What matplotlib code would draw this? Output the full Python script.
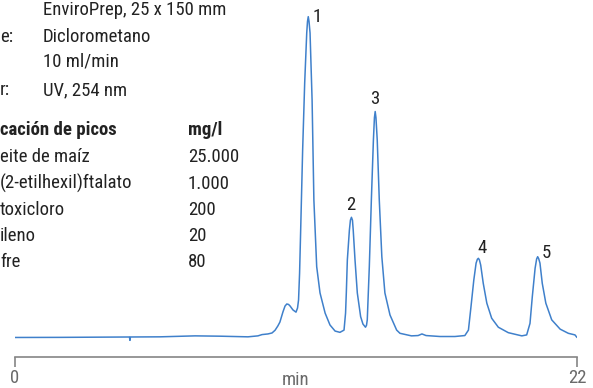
import numpy as np
import matplotlib
matplotlib.use("Agg")
import matplotlib.pyplot as plt

plt.rcParams['font.family'] = ['Roboto Condensed', 'DejaVu Sans']
fs = 13.5

# chromatogram: time (min) and detector signal (arbitrary units)
time_min = [0.0, 1.76, 3.33, 4.48, 4.50, 4.52, 5.68, 7.05, 8.03, 9.12, 9.51, 9.67, 9.90,
            10.06, 10.18, 10.29, 10.37, 10.49, 10.57, 10.64, 10.71, 10.77, 10.88, 11.00, 11.06, 11.10,
            11.14, 11.18, 11.26, 11.34, 11.42, 11.45, 11.48, 11.51, 11.55, 11.63, 11.70, 11.81,
            11.94, 12.14, 12.33, 12.53, 12.72, 12.88, 12.94, 12.97, 13.01, 13.09, 13.13, 13.17,
            13.21, 13.24, 13.31, 13.40, 13.53, 13.62, 13.72, 13.76, 13.79, 13.87, 13.95, 14.03,
            14.07, 14.10, 14.13, 14.18, 14.26, 14.36, 14.48, 14.68, 14.94, 15.07, 15.52,
            15.78, 15.93, 16.09, 16.64, 17.22, 17.61, 17.75, 17.85, 17.96, 18.05, 18.10, 18.14,
            18.18, 18.23, 18.33, 18.47, 18.66, 18.92, 19.31, 19.84, 20.03, 20.16, 20.25, 20.36,
            20.42, 20.46, 20.50, 20.55, 20.64, 20.78, 21.01, 21.34, 21.66, 21.92, 21.99]
signal = [0.0, 0.03, 0.1, 0.15, -0.9, 0.15, 0.2, 0.5, 0.4, 0.2, 0.5, 0.9, 1.1,
          1.4, 2.25, 3.6, 4.8, 8.0, 9.8, 10.45, 10.3, 9.8, 8.6, 7.9, 9.2, 11.7,
          20.0, 32.6, 58.5, 79.4, 95.0, 98.6, 100.1, 98.6, 95.0, 74.1, 42.9, 22.1,
          13.9, 7.6, 3.9, 2.0, 1.6, 2.3, 7.6, 14.0, 24.2, 33.5, 36.6, 37.5,
          36.6, 33.5, 24.2, 13.9, 6.5, 4.2, 3.2, 3.8, 5.5, 22.1, 42.9, 61.6,
          68.6, 70.5, 68.6, 61.6, 42.9, 25.2, 13.9, 7.0, 2.3, 1.3, 0.5,
          0.6, 1.1, 0.6, 0.3, 0.3, 0.6, 2.3, 9.6, 17.9, 23.2, 24.4, 24.7,
          24.2, 22.6, 16.9, 10.7, 6.0, 3.2, 1.5, 0.5, 0.8, 4.4, 12.7, 21.6,
          24.5, 25.2, 24.6, 23.2, 16.9, 10.7, 5.5, 2.6, 1.3, 0.8, 0.1]

peak_labels = ['1', '2', '3', '4', '5']
peak_label_t = [11.84, 13.15, 14.09, 18.28, 20.81]
peak_label_v = [99.9, 41.3, 74.3, 27.9, 26.4]

# conditions block (left part is cut off in the original)
cond_labels = ['', 'e:', '', 'r:']
cond_values = ['EnviroPrep, 25 x 150 mm', 'Diclorometano', '10 ml/min', 'UV, 254 nm']
peak_names = ['eite de maíz', '(2-etilhexil)ftalato', 'toxicloro', 'ileno', 'fre']
peak_conc = ['25.000', '1.000', '200', '20', '80']

W, H = 593, 388
fig = plt.figure(figsize=(W / 100, H / 100), dpi=100)
ax = fig.add_axes([15 / W, (H - 356.7) / H, 562 / W, 356.7 / H])

ax.plot(time_min, signal, color='#3f80cb', lw=1.1)
for lab, t, v in zip(peak_labels, peak_label_t, peak_label_v):
    ax.text(t, v, lab, ha='center', va='center', fontsize=fs, color='#222222')

ax.set_xlim(0, 22)
ax.set_ylim(-6.0, 105.3)
for s in ['top', 'left', 'right']:
    ax.spines[s].set_visible(False)
ax.spines['bottom'].set_color('#858585')
ax.spines['bottom'].set_linewidth(1.2)
ax.set_yticks([])
ax.set_xticks([0, 22])
ax.set_xticklabels(['0', '22'])
ax.tick_params(axis='x', direction='out', length=7, width=1.2, color='#858585',
               labelcolor='#6a6a6a', labelsize=fs, pad=2)
ax.text(0.5, -0.065, 'min', transform=ax.transAxes, ha='center', va='center',
        fontsize=fs, color='#6a6a6a')


def px(x, y):
    return x / W, 1 - y / H


rows_y = [10, 37, 62, 90]
for lab, val, y in zip(cond_labels, cond_values, rows_y):
    fig.text(*px(0, y), lab, va='center', fontsize=fs, color='#222222')
    fig.text(*px(43, y), val, va='center', fontsize=fs, color='#222222')

fig.text(*px(0, 130), 'cación de picos', va='center', fontsize=fs,
         fontweight='bold', color='#222222')
fig.text(*px(188, 130), 'mg/l', va='center', fontsize=fs,
         fontweight='bold', color='#222222')
for i, (name, conc) in enumerate(zip(peak_names, peak_conc)):
    y = 157.5 + i * 26.2
    fig.text(*px(0, y), name, va='center', fontsize=fs, color='#222222')
    fig.text(*px(188, y), conc, va='center', fontsize=fs, color='#222222')

fig.savefig('out.png', dpi=100)
